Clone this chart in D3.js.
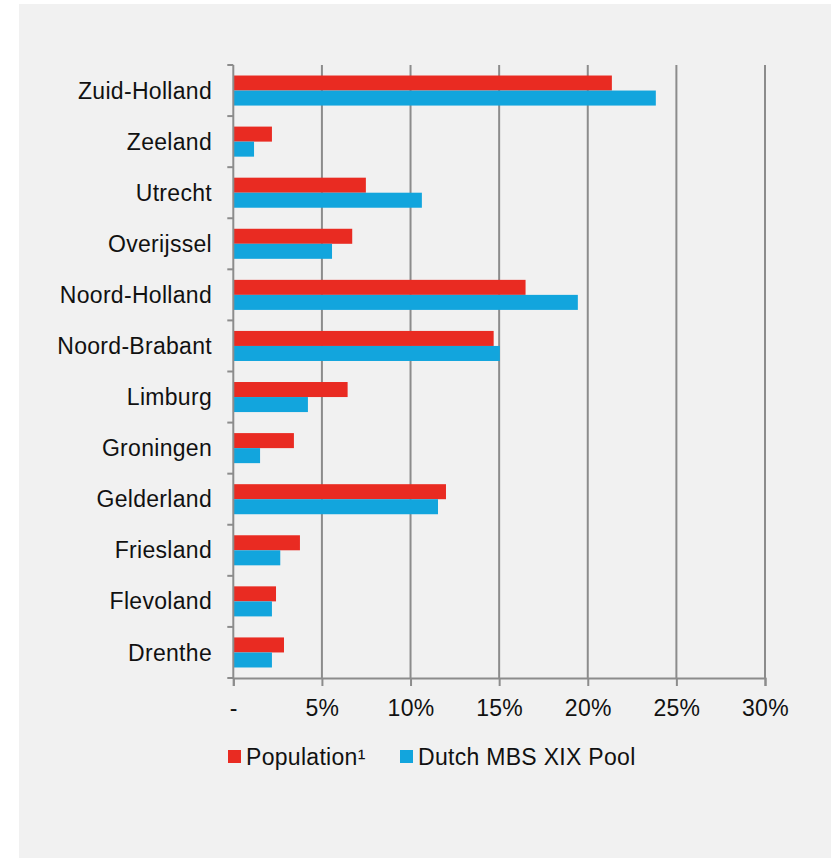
<!DOCTYPE html>
<html>
<head>
<meta charset="utf-8">
<script src="https://cdn.jsdelivr.net/npm/d3@7"></script>
<style>
  html, body { margin: 0; padding: 0; background: #ffffff; }
  svg { display: block; }
  text { font-family: "Liberation Sans", Arial, sans-serif; fill: #111111; letter-spacing: 0.3px; }
</style>
</head>
<body>
<svg id="chart" width="831" height="858"></svg>
<script>
// Share of each province, in percent
const provinces = ["Zuid-Holland", "Zeeland", "Utrecht", "Overijssel", "Noord-Holland",
  "Noord-Brabant", "Limburg", "Groningen", "Gelderland", "Friesland", "Flevoland", "Drenthe"];
const populationShare = [21.36, 2.18, 7.48, 6.71, 16.49, 14.69, 6.45, 3.42, 12.0, 3.76, 2.41, 2.86];
const poolShare = [23.84, 1.17, 10.64, 5.57, 19.44, 15.04, 4.21, 1.51, 11.55, 2.65, 2.18, 2.18];
const seriesNames = ["Population¹", "Dutch MBS XIX Pool"];
const seriesColors = ["#e92b22", "#12a5dd"];
const xTicks = [0, 5, 10, 15, 20, 25, 30];

const rows = provinces.map((p, i) => ({ name: p, values: [populationShare[i], poolShare[i]] }));

const svg = d3.select("#chart");
const fontSize = 23;

// Grey panel
svg.append("rect").attr("x", 19).attr("y", 4).attr("width", 812).attr("height", 854)
  .attr("fill", "#f1f1f1");

const plotLeft = 233.3, plotRight = 765, plotTop = 65, plotBottom = 678;

const x = d3.scaleLinear().domain([0, 30]).range([plotLeft, plotRight]);
const y0 = d3.scaleBand().domain(provinces).range([plotTop, plotBottom]).paddingInner(0).paddingOuter(0);
const y1 = d3.scaleBand().domain(d3.range(seriesNames.length)).range([0, y0.bandwidth()])
  .paddingInner(0).paddingOuter(0.7);

const gridColor = "#8c8c8c";

// Vertical gridlines
svg.append("g").selectAll("line").data(xTicks.filter(t => t > 0)).join("line")
  .attr("x1", d => x(d)).attr("x2", d => x(d))
  .attr("y1", plotTop).attr("y2", plotBottom)
  .attr("stroke", gridColor).attr("stroke-width", 2);

// Bars
const groups = svg.append("g").selectAll("g").data(rows).join("g")
  .attr("transform", d => `translate(0,${y0(d.name)})`);
groups.selectAll("rect").data(d => d.values.map((v, i) => ({ v, i }))).join("rect")
  .attr("x", x(0))
  .attr("y", d => y1(d.i))
  .attr("width", d => x(d.v) - x(0))
  .attr("height", y1.bandwidth())
  .attr("fill", d => seriesColors[d.i]);

// Left axis with ticks at category boundaries
const axisG = svg.append("g");
axisG.append("line").attr("x1", plotLeft).attr("x2", plotLeft).attr("y1", plotTop).attr("y2", plotBottom)
  .attr("stroke", gridColor).attr("stroke-width", 2);
const boundaries = provinces.map(p => y0(p)).concat([plotBottom]);
axisG.selectAll("line.ytick").data(boundaries).join("line").attr("class", "ytick")
  .attr("x1", plotLeft - 6).attr("x2", plotLeft).attr("y1", d => d).attr("y2", d => d)
  .attr("stroke", gridColor).attr("stroke-width", 2);

// Category labels
svg.append("g").selectAll("text").data(provinces).join("text")
  .attr("x", 212).attr("y", d => y0(d) + y0.bandwidth() / 2)
  .attr("dy", "0.35em").attr("text-anchor", "end")
  .attr("font-size", fontSize).text(d => d);

// Bottom axis
const xAxis = d3.axisBottom(x).tickValues(xTicks).tickSize(8).tickPadding(14)
  .tickFormat(d => d === 0 ? "-" : d + "%");
const xg = svg.append("g").attr("transform", `translate(0,${plotBottom})`).call(xAxis);
xg.select(".domain").attr("stroke", gridColor).attr("stroke-width", 2);
xg.selectAll(".tick line").attr("stroke", gridColor).attr("stroke-width", 2);
xg.selectAll(".tick text").attr("font-size", fontSize)
  .attr("font-family", "Liberation Sans, Arial, sans-serif").attr("fill", "#111111");

// Legend
const legendX = [228, 400];
const lg = svg.append("g").selectAll("g").data(seriesNames).join("g")
  .attr("transform", (d, i) => `translate(${legendX[i]},750)`);
lg.append("rect").attr("width", 13).attr("height", 13).attr("fill", (d, i) => seriesColors[i]);
lg.append("text").attr("x", 18).attr("y", 7).attr("dy", "0.35em")
  .attr("font-size", fontSize).text(d => d);
</script>
</body>
</html>
